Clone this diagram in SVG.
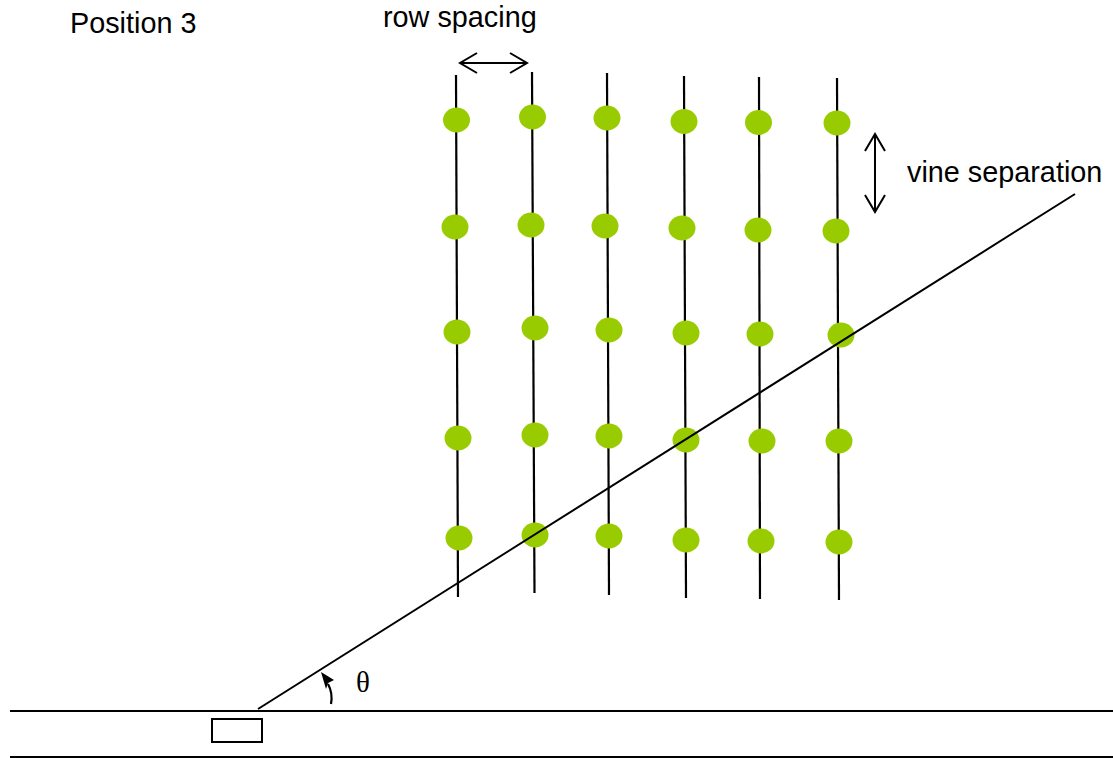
<svg xmlns="http://www.w3.org/2000/svg" width="1113" height="758" viewBox="0 0 1113 758">
<style>
.lbl{font-family:"Liberation Sans",Arial,sans-serif;font-size:28.8px;fill:#000}
.th{font-family:"Liberation Serif","Times New Roman",serif;font-size:29px;fill:#000}
.row{stroke:#000;stroke-width:2.2;fill:none}
.dot{fill:#99cc00}
.ln{stroke:#000;stroke-width:2;fill:none}
</style>
<defs>
<marker id="oa" markerUnits="userSpaceOnUse" markerWidth="40" markerHeight="40" viewBox="-20 -20 40 40" refX="0" refY="0" orient="auto-start-reverse" overflow="visible">
<path d="M -17 -10 L 0 0 L -17 10" fill="none" stroke="#000" stroke-width="2"/>
</marker>
</defs>
<rect width="1113" height="758" fill="#fff"/>
<text class="lbl" x="70" y="33">Position 3</text>
<text class="lbl" x="383" y="27">row spacing</text>
<text class="lbl" x="907" y="182">vine separation</text>
<text class="th" x="356" y="692">θ</text>
<g id="row1"><path class="row" d="M456 75 L458 597"/>
<ellipse class="dot" cx="456.5" cy="120" rx="13.5" ry="12.5"/><ellipse class="dot" cx="455" cy="227" rx="13.5" ry="12.5"/><ellipse class="dot" cx="457" cy="332" rx="13.5" ry="12.5"/><ellipse class="dot" cx="458" cy="438" rx="13.5" ry="12.5"/><ellipse class="dot" cx="459" cy="538" rx="13.5" ry="12.5"/></g>
<g id="row2"><path class="row" d="M532 72 L534.5 593"/>
<ellipse class="dot" cx="532.5" cy="117" rx="13.5" ry="12.5"/><ellipse class="dot" cx="531" cy="225" rx="13.5" ry="12.5"/><ellipse class="dot" cx="535" cy="328" rx="13.5" ry="12.5"/><ellipse class="dot" cx="535" cy="435" rx="13.5" ry="12.5"/><ellipse class="dot" cx="535" cy="535" rx="13.5" ry="12.5"/></g>
<g id="row3"><path class="row" d="M607 73 L609 595"/>
<ellipse class="dot" cx="607" cy="118" rx="13.5" ry="12.5"/><ellipse class="dot" cx="605" cy="226" rx="13.5" ry="12.5"/><ellipse class="dot" cx="609" cy="330" rx="13.5" ry="12.5"/><ellipse class="dot" cx="609" cy="436" rx="13.5" ry="12.5"/><ellipse class="dot" cx="609" cy="536" rx="13.5" ry="12.5"/></g>
<g id="row4"><path class="row" d="M684 76 L686 598"/>
<ellipse class="dot" cx="684" cy="121.5" rx="13.5" ry="12.5"/><ellipse class="dot" cx="682" cy="228" rx="13.5" ry="12.5"/><ellipse class="dot" cx="686" cy="333" rx="13.5" ry="12.5"/><ellipse class="dot" cx="686" cy="440" rx="13.5" ry="12.5"/><ellipse class="dot" cx="686" cy="540" rx="13.5" ry="12.5"/></g>
<g id="row5"><path class="row" d="M759 77 L760 599"/>
<ellipse class="dot" cx="758.5" cy="122.5" rx="13.5" ry="12.5"/><ellipse class="dot" cx="758" cy="230" rx="13.5" ry="12.5"/><ellipse class="dot" cx="760" cy="334" rx="13.5" ry="12.5"/><ellipse class="dot" cx="762" cy="441" rx="13.5" ry="12.5"/><ellipse class="dot" cx="761" cy="541" rx="13.5" ry="12.5"/></g>
<g id="row6"><path class="row" d="M837 78 L839 600"/>
<ellipse class="dot" cx="837" cy="123" rx="13.5" ry="12.5"/><ellipse class="dot" cx="836" cy="231" rx="13.5" ry="12.5"/><ellipse class="dot" cx="841" cy="335" rx="13.5" ry="12.5"/><ellipse class="dot" cx="839" cy="441" rx="13.5" ry="12.5"/><ellipse class="dot" cx="839" cy="542" rx="13.5" ry="12.5"/></g>
<g id="ground">
<path class="ln" d="M10 711 L1113 711"/>
<path class="ln" d="M10 757 L1113 757"/>
<rect id="sensor" x="212" y="719" width="50" height="23" fill="#fff" stroke="#000" stroke-width="2"/>
</g>
<g id="connectors">
<path class="ln" d="M258 709 L1075 194"/>
<path class="ln" d="M460 63 L527 63" marker-start="url(#oa)" marker-end="url(#oa)"/>
<path class="ln" d="M875 134 L875 212" marker-start="url(#oa)" marker-end="url(#oa)"/>
<path d="M331 704 Q333 693 328 684" fill="none" stroke="#000" stroke-width="2.2"/>
<polygon points="321,672 334,680 328,683 326,689" fill="#000"/>
</g>
</svg>
